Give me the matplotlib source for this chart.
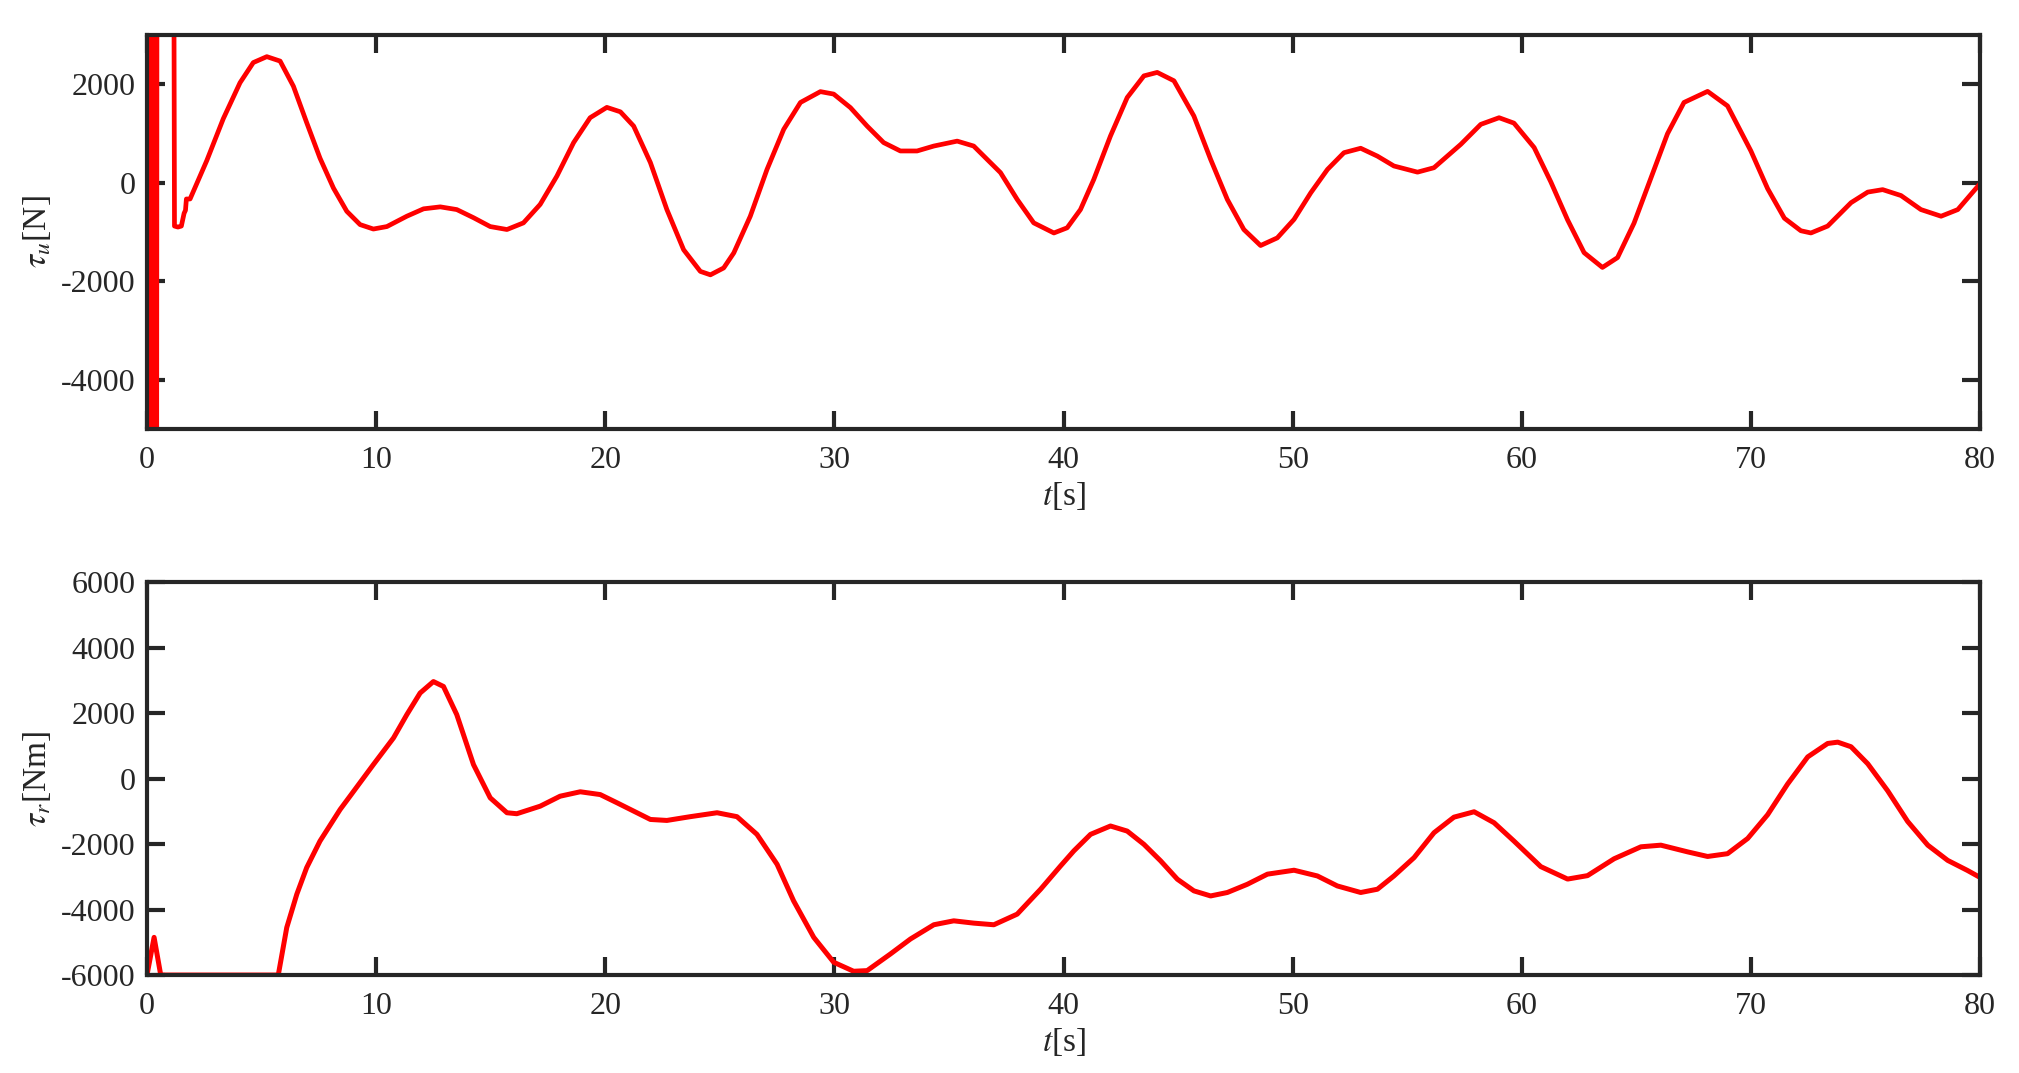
import matplotlib
matplotlib.use("Agg")
import matplotlib.pyplot as plt

plt.rcParams['font.family'] = ['Liberation Serif', 'DejaVu Serif']
plt.rcParams['mathtext.fontset'] = 'stix'

# ---------------- data ----------------
# surge force tau_u [N]: initial chattering block, then smooth response
tau_u_t = [0.00, 0.02, 0.04, 0.06, 0.08, 0.10, 0.12, 0.14, 0.16, 0.18, 0.20,
           0.22, 0.24, 0.26, 0.28, 0.30, 0.32, 0.34, 0.36, 0.38, 0.40, 0.42,
           0.44, 1.15, 1.20, 1.35, 1.50, 1.62, 1.68, 1.72, 1.88,
           2.61, 3.33, 4.06, 4.64, 5.23, 5.81, 6.39, 6.97, 7.55, 8.14, 8.72,
           9.30, 9.88, 10.47, 11.34, 12.07, 12.80, 13.52, 14.25, 14.98, 15.71,
           16.43, 17.16, 17.89, 18.62, 19.34, 20.07, 20.66, 21.24, 21.97,
           22.69, 23.42, 24.15, 24.59, 25.17, 25.61, 26.33, 27.06, 27.79,
           28.52, 29.39, 29.97, 30.70, 31.43, 32.15, 32.88, 33.61, 34.34,
           35.36, 36.08, 37.25, 37.98, 38.70, 39.58, 40.16, 40.74, 41.32,
           42.05, 42.78, 43.51, 44.09, 44.82, 45.69, 46.42, 47.15, 47.87,
           48.60, 49.33, 50.06, 50.79, 51.52, 52.24, 52.97, 53.70, 54.42,
           55.45, 56.17, 57.34, 58.21, 59.01, 59.66, 60.54, 61.27, 62.00,
           62.72, 63.52, 64.18, 64.90, 65.63, 66.36, 67.08, 68.11, 68.98,
           70.00, 70.73, 71.46, 72.18, 72.62, 73.35, 74.37, 75.10, 75.75,
           76.55, 77.42, 78.30, 79.03, 80.00]
tau_u = [9000, -9000, 9000, -9000, 9000, -9000, 9000, -9000, 9000, -9000, 9000,
         -9000, 9000, -9000, 9000, -9000, 9000, -9000, 9000, -9000, 9000, -9000,
         9000, 9000, -880, -900, -880, -620, -560, -330, -330,
         450, 1300, 2030, 2440, 2560, 2470, 1960, 1220, 500, -110, -580,
         -850, -940, -890, -680, -530, -490, -545, -710, -890, -950,
         -815, -440, 135, 815, 1320, 1530, 1440, 1150, 410,
         -545, -1360, -1800, -1870, -1730, -1425, -680, 270, 1085,
         1630, 1850, 1800, 1525, 1150, 815, 645, 645, 745,
         845, 745, 205, -340, -815, -1020, -915, -545, 65,
         950, 1730, 2170, 2240, 2070, 1355, 475, -340, -950,
         -1275, -1120, -745, -205, 270, 610, 700, 540, 340,
         215, 305, 780, 1185, 1320, 1210, 715, 15, -755,
         -1420, -1720, -1520, -820, 85, 995, 1630, 1855, 1560,
         645, -120, -720, -975, -1020, -880, -405, -190, -140,
         -260, -545, -680, -545, -20]

# yaw moment tau_r [Nm]
tau_r_t = [0.00, 0.31, 0.60, 5.73, 6.10, 6.54, 6.97, 7.55, 8.43, 8.86, 9.88,
           10.76, 11.34, 11.92, 12.50, 12.94, 13.52, 14.25, 14.98, 15.71,
           16.14, 17.16, 18.03, 18.91, 19.78, 20.51, 21.24, 21.97, 22.69,
           23.71, 24.88, 25.75, 26.62, 27.50, 28.22, 29.10, 29.97, 30.84,
           31.43, 32.45, 33.32, 34.34, 35.21, 36.08, 36.96, 37.98, 39.00,
           39.87, 40.45, 41.18, 42.05, 42.78, 43.51, 44.24, 44.97, 45.69,
           46.42, 47.15, 48.02, 48.90, 50.06, 51.08, 51.95, 52.97, 53.70,
           54.42, 55.30, 56.17, 57.04, 57.92, 58.79, 59.66, 60.83, 62.00,
           62.87, 64.03, 65.20, 66.07, 67.24, 68.11, 68.98, 69.86, 70.73,
           71.60, 72.48, 73.35, 73.79, 74.37, 75.10, 75.97, 76.84, 77.72,
           78.59, 79.46, 80.00]
tau_r = [-6000, -4850, -6000, -6000, -4550, -3530, -2720, -1910, -945, -540, 425,
         1240, 1950, 2610, 2960, 2810, 1950, 425, -590, -1045,
         -1075, -845, -540, -405, -490, -740, -995, -1250, -1280,
         -1165, -1045, -1165, -1705, -2620, -3735, -4850, -5610, -5885,
         -5865, -5355, -4900, -4465, -4345, -4415, -4465, -4140, -3380,
         -2670, -2210, -1705, -1450, -1605, -2010, -2515, -3075, -3430,
         -3585, -3480, -3230, -2920, -2800, -2975, -3280, -3480, -3380,
         -2975, -2415, -1655, -1180, -1015, -1350, -1910, -2690, -3070,
         -2965, -2450, -2085, -2035, -2240, -2380, -2295, -1830, -1105,
         -170, 660, 1070, 1110, 970, 450, -375, -1310, -2035,
         -2500, -2810, -3020]

x_ticks = [0, 10, 20, 30, 40, 50, 60, 70, 80]
u_ticks = [-4000, -2000, 0, 2000]
r_ticks = [-6000, -4000, -2000, 0, 2000, 4000, 6000]

# ---------------- figure ----------------
fig = plt.figure(figsize=(20.19, 10.73), dpi=100)
ax1 = fig.add_axes([0.0728, 0.6002, 0.9079, 0.3672])
ax2 = fig.add_axes([0.0728, 0.0913, 0.9079, 0.3663])

spine_col = '#262626'
red = '#ff0000'

def style(ax, yticks, ylim, ylabel):
    ax.set_xlim(0, 80)
    ax.set_ylim(*ylim)
    ax.set_xticks(x_ticks)
    ax.set_yticks(yticks)
    ax.set_xticklabels([str(v) for v in x_ticks])
    ax.set_yticklabels([str(v) for v in yticks])
    for s in ax.spines.values():
        s.set_linewidth(3.0)
        s.set_color(spine_col)
    ax.tick_params(axis='both', direction='in', length=13, width=3.0,
                   colors=spine_col, labelcolor=spine_col, labelsize=23,
                   top=True, right=True)
    ax.tick_params(axis='x', pad=12)
    ax.tick_params(axis='y', pad=8)
    ax.set_xlabel(r'$t$[s]', fontsize=24, color=spine_col, labelpad=4)
    ax.set_ylabel(ylabel, fontsize=24, color=spine_col, labelpad=6)

ax1.plot(tau_u_t, tau_u, color=red, linewidth=3.4,
         solid_joinstyle='round', solid_capstyle='round')
ax2.plot(tau_r_t, tau_r, color=red, linewidth=3.6,
         solid_joinstyle='round', solid_capstyle='round')

style(ax1, u_ticks, (-5000, 3000), r'$\tau_u$[N]')
style(ax2, r_ticks, (-6000, 6000), r'$\tau_r$[Nm]')

fig.savefig('out.png', dpi=100)
